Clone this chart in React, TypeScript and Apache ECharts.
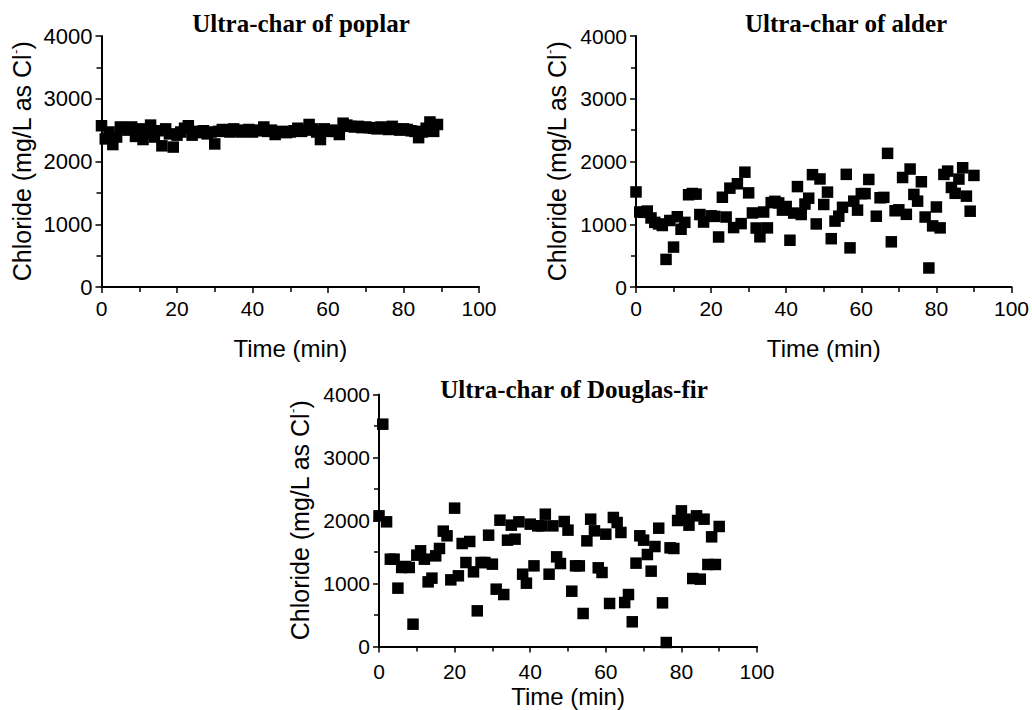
import { useEffect, useRef } from "react";
import * as echarts from "echarts";

// ---- Data ----
const poplarTime = [0,1,2,3,4,5,6,7,8,9,10,11,12,13,14,15,16,17,18,19,20,21,22,23,24,25,26,27,28,29,30,31,32,33,34,35,36,37,38,39,40,41,42,43,44,45,46,47,48,49,50,51,52,53,54,55,56,57,58,59,60,61,62,63,64,65,66,67,68,69,70,71,72,73,74,75,76,77,78,79,80,81,82,83,84,85,86,87,88,89];
const poplarChloride = [2570,2360,2470,2270,2390,2550,2540,2500,2550,2400,2520,2350,2450,2580,2390,2490,2250,2520,2440,2230,2420,2470,2530,2570,2420,2480,2460,2490,2440,2470,2280,2480,2510,2490,2470,2520,2500,2470,2490,2510,2470,2500,2490,2550,2480,2500,2430,2470,2480,2460,2470,2490,2530,2480,2500,2590,2520,2470,2350,2520,2480,2500,2480,2430,2610,2580,2560,2550,2560,2540,2550,2540,2530,2520,2550,2530,2510,2560,2520,2500,2520,2510,2490,2480,2380,2470,2530,2630,2480,2590];

const alderTime = [0,1,2,3,4,5,6,7,8,9,10,11,12,13,14,15,16,17,18,20,21,22,23,24,25,26,27,28,29,30,31,32,33,34,35,36,37,38,39,40,41,42,43,44,45,46,47,48,49,50,51,52,53,54,55,56,57,58,59,60,61,62,64,65,66,67,68,69,70,71,72,73,74,75,76,77,78,79,80,81,82,83,84,85,86,87,88,89,90];
const alderChloride = [1515,1195,1190,1210,1100,1030,1005,980,440,1060,636,1120,920,1030,1470,1490,1480,1155,1035,1134,1125,797,1430,1115,1575,947,1645,1010,1830,1500,1180,940,800,1195,942,1345,1365,1340,1225,1283,745,1178,1600,1155,1322,1415,1790,1005,1722,1315,1512,770,1050,1128,1270,1795,624,1368,1225,1488,1488,1714,1128,1422,1428,2130,720,1215,1230,1745,1158,1880,1475,1368,1677,1115,303,974,1275,942,1794,1847,1586,1493,1720,1900,1448,1208,1778];

const firTime = [0,1,2,3,4,5,6,7,8,9,10,11,12,13,14,15,16,17,18,19,20,21,22,23,24,25,26,27,28,29,30,31,32,33,34,35,36,37,38,39,40,41,42,43,44,45,46,47,48,49,50,51,52,53,54,55,56,57,58,59,60,61,62,63,64,65,66,67,68,69,70,71,72,73,74,75,76,77,78,79,80,81,82,83,84,85,86,87,88,89,90];
const firChloride = [2074,3529,1979,1386,1386,926,1254,1270,1254,354,1450,1519,1386,1026,1085,1439,1556,1831,1757,1058,2196,1122,1635,1333,1667,1185,566,1333,1333,1767,1307,910,2005,825,1688,1926,1704,1979,1148,1005,1942,1280,1915,1915,2100,1148,1915,1423,1317,1984,1847,878,1280,1280,524,1677,2021,1836,1249,1175,1783,683,2048,1968,1810,698,825,392,1323,1757,1688,1460,1196,1587,1878,693,63,1566,1556,2000,2153,2021,1926,1079,2074,1069,2021,1302,1741,1302,1905];

const panelTitles = ["Ultra-char of poplar", "Ultra-char of alder", "Ultra-char of Douglas-fir"];
const xAxisTitle = "Time (min)";
const yAxisTitle = "{a|Chloride (mg/L as Cl}{s|-}{a|)}";

const SANS = "'Liberation Sans', Arial, Helvetica, sans-serif";
const SERIF = "'Liberation Serif', 'Times New Roman', serif";

function pairs(xs: number[], ys: number[]) {
  return xs.map((x, i) => [x, ys[i]]);
}

export default function App() {
  const ref = useRef<HTMLDivElement>(null);
  useEffect(() => {
    if (!ref.current) return;
    const chart = echarts.init(ref.current, undefined, { renderer: "svg" });

    const grids = [
      { left: 101.5, top: 36, width: 377.5, height: 251 },
      { left: 636, top: 36, width: 377, height: 251 },
      { left: 379, top: 394.5, width: 378, height: 252 },
    ];
    const xNameGaps = [49, 49, 38];
    const xLabelMargins = [11, 11, 14];
    const yLabelSizes = [22, 21, 21];

    const axisLine = { show: true, lineStyle: { color: "#000", width: 2 } };
    const fmt = (v: number) => String(v);
    const xAxes = grids.map((_, i) => ({
      type: "value",
      gridIndex: i,
      min: 0,
      max: 100,
      interval: 20,
      name: xAxisTitle,
      nameLocation: "middle",
      nameGap: xNameGaps[i],
      nameTextStyle: { fontFamily: SANS, fontSize: 24, color: "#000" },
      axisLine,
      axisTick: { show: true, length: 6, lineStyle: { color: "#000", width: 1.5 } },
      minorTick: { show: true, splitNumber: 2, length: 5, lineStyle: { color: "#000", width: 1.5 } },
      axisLabel: { fontFamily: SANS, fontSize: 21, color: "#000", margin: xLabelMargins[i], formatter: fmt },
      splitLine: { show: false },
    }));
    const yAxes = grids.map((_, i) => ({
      type: "value",
      gridIndex: i,
      min: 0,
      max: 4000,
      interval: 1000,
      name: yAxisTitle,
      nameLocation: "middle",
      nameGap: 66,
      nameRotate: 90,
      nameTextStyle: {
        fontFamily: SANS,
        fontSize: 25,
        color: "#000",
        rich: {
          a: { fontFamily: SANS, fontSize: 25, color: "#000", lineHeight: 27 },
          s: { fontFamily: SANS, fontSize: 13, color: "#000", verticalAlign: "top", lineHeight: 13 },
        },
      },
      axisLine,
      axisTick: { show: true, length: 6, lineStyle: { color: "#000", width: 1.5 } },
      minorTick: { show: true, splitNumber: 2, length: 5, lineStyle: { color: "#000", width: 1.5 } },
      axisLabel: { fontFamily: SANS, fontSize: yLabelSizes[i], color: "#000", margin: 9, formatter: fmt },
      splitLine: { show: false },
    }));

    const datasets = [
      pairs(poplarTime, poplarChloride),
      pairs(alderTime, alderChloride),
      pairs(firTime, firChloride),
    ];

    chart.setOption({
      animation: false,
      backgroundColor: "#fff",
      grid: grids,
      xAxis: xAxes,
      yAxis: yAxes,
      series: datasets.map((d, i) => ({
        type: "scatter",
        xAxisIndex: i,
        yAxisIndex: i,
        symbol: "rect",
        symbolSize: 11.5,
        itemStyle: { color: "#000", opacity: 1 },
        data: d,
      })),
      graphic: [
        { type: "text", x: 301, y: 23, style: { text: panelTitles[0], font: `bold 25px ${SERIF}`, fill: "#000", textAlign: "center", textVerticalAlign: "middle" } },
        { type: "text", x: 846, y: 23, style: { text: panelTitles[1], font: `bold 25px ${SERIF}`, fill: "#000", textAlign: "center", textVerticalAlign: "middle" } },
        { type: "text", x: 574, y: 389, style: { text: panelTitles[2], font: `bold 25px ${SERIF}`, fill: "#000", textAlign: "center", textVerticalAlign: "middle" } },
      ],
    });
    return () => chart.dispose();
  }, []);
  return (
    <div
      ref={ref}
      style={{ position: "fixed", left: 0, top: 0, width: 1032, height: 710, background: "#fff" }}
    />
  );
}
